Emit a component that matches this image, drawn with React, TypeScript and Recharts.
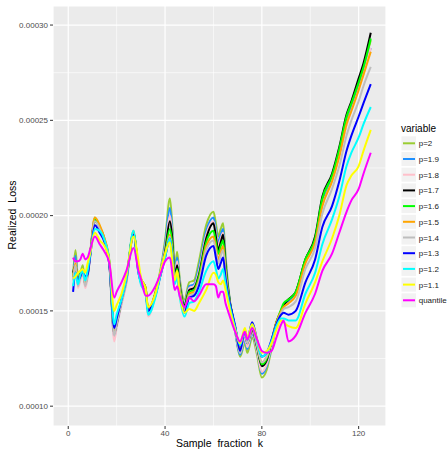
import { CartesianGrid, Label, Line, LineChart, XAxis, YAxis } from "recharts";

// sample fraction k
const K = [
  2, 3, 4, 5, 6, 7, 8, 9, 11, 13, 15, 17, 19, 20, 22, 24, 27, 29, 30, 32, 33, 36, 38, 40,
  42, 43, 44, 45, 46, 48, 50, 52, 54, 57, 60, 61, 62, 63, 64, 65, 66, 69, 71, 73, 74, 76,
  78, 80, 82, 84, 86, 88, 89, 91, 94, 98, 102, 105, 109, 112, 115, 117, 120, 122, 125,
];

// realized loss, in units of 1e-5
const P2 = [
  16.9, 18.2, 16.8, 17.0, 17.4, 16.5, 17.0, 18.0, 19.9, 19.4, 18.8, 17.5, 13.8, 14.4, 15.5, 16.6,
  19.2, 17.2, 16.7, 16.2, 15.0, 16.0, 17.1, 18.7, 20.9, 19.5, 17.2, 18.1, 16.8, 15.6, 16.5, 16.6,
  17.6, 19.5, 20.2, 19.6, 18.9, 19.3, 19.6, 17.9, 16.4, 13.9, 12.6, 13.3, 12.8, 13.6, 12.7, 11.5,
  11.9, 13.0, 14.3, 15.0, 15.3, 15.6, 16.0, 17.7, 18.8, 20.8, 22.1, 23.4, 25.1, 25.8, 26.9, 27.8, 29.2,
];
const P19 = [
  16.7, 17.9, 16.5, 16.8, 17.2, 16.4, 16.9, 17.9, 19.8, 19.4, 18.7, 17.4, 13.6, 14.2, 15.4, 16.5,
  19.1, 17.1, 16.6, 16.0, 14.8, 15.9, 17.0, 18.5, 20.4, 19.2, 17.0, 17.8, 16.6, 15.4, 16.3, 16.4,
  17.3, 19.2, 19.9, 19.3, 18.6, 19.0, 19.3, 17.7, 16.3, 13.9, 12.7, 13.5, 13.0, 13.8, 12.9, 11.7,
  12.1, 13.1, 14.3, 15.0, 15.3, 15.5, 15.9, 17.6, 18.6, 20.6, 21.9, 23.2, 24.8, 25.6, 26.7, 27.5, 28.8,
];
const P18 = [
  16.6, 17.6, 16.2, 16.6, 17.0, 16.2, 16.7, 17.8, 19.8, 19.3, 18.6, 17.4, 13.4, 14.1, 15.3, 16.4,
  19.0, 17.0, 16.5, 15.9, 14.7, 15.8, 16.9, 18.3, 20.0, 19.0, 16.9, 17.6, 16.5, 15.3, 16.2, 16.3,
  17.1, 19.0, 19.7, 19.1, 18.4, 18.8, 19.1, 17.6, 16.2, 14.0, 12.8, 13.6, 13.1, 13.9, 12.9, 11.8,
  12.2, 13.2, 14.3, 15.0, 15.2, 15.4, 15.8, 17.5, 18.6, 20.5, 21.8, 23.1, 24.7, 25.5, 26.6, 27.4, 28.8,
];
const P17 = [
  17.0, 17.4, 16.6, 16.9, 17.2, 16.4, 16.9, 17.9, 19.7, 19.4, 18.7, 17.5, 13.8, 14.3, 15.5, 16.6,
  19.1, 17.2, 16.6, 16.1, 15.0, 15.9, 16.9, 18.1, 19.7, 18.8, 16.8, 17.4, 16.4, 15.3, 16.1, 16.2,
  16.9, 18.8, 19.6, 18.9, 18.2, 18.6, 19.0, 17.5, 16.2, 14.1, 13.0, 13.8, 13.3, 14.0, 13.1, 12.1,
  12.4, 13.4, 14.4, 15.0, 15.3, 15.6, 16.0, 17.7, 18.9, 21.0, 22.2, 23.6, 25.3, 26.0, 27.2, 28.0, 29.6,
];
const P16 = [
  16.8, 17.3, 16.5, 16.9, 17.2, 16.5, 17.0, 17.9, 19.8, 19.4, 18.7, 17.5, 13.9, 14.4, 15.5, 16.6,
  19.1, 17.2, 16.7, 16.2, 15.0, 15.9, 16.9, 18.0, 19.3, 18.5, 16.7, 17.2, 16.3, 15.2, 16.0, 16.1,
  16.8, 18.6, 19.2, 18.6, 18.0, 18.4, 18.7, 17.3, 16.1, 14.1, 13.1, 13.9, 13.4, 14.1, 13.2, 12.2,
  12.5, 13.4, 14.4, 15.1, 15.4, 15.6, 16.0, 17.7, 18.8, 20.9, 22.1, 23.5, 25.2, 25.9, 27.0, 27.8, 29.3,
];
const P15 = [
  16.8, 17.5, 16.6, 16.8, 17.2, 16.4, 16.9, 17.9, 19.9, 19.5, 18.8, 17.6, 14.0, 14.5, 15.6, 16.7,
  19.1, 17.3, 16.7, 16.2, 15.1, 15.9, 16.9, 17.9, 19.0, 18.2, 16.6, 17.1, 16.2, 15.1, 15.9, 16.0,
  16.6, 18.4, 18.9, 18.3, 17.7, 18.1, 18.4, 17.1, 16.0, 14.1, 13.1, 13.9, 13.4, 14.1, 13.3, 12.3,
  12.6, 13.4, 14.4, 15.0, 15.2, 15.4, 15.8, 17.5, 18.6, 20.5, 21.8, 23.1, 24.8, 25.5, 26.6, 27.4, 28.6,
];
const P14 = [
  16.6, 17.4, 16.3, 16.7, 17.0, 16.3, 16.8, 17.8, 19.7, 19.3, 18.6, 17.4, 13.7, 14.3, 15.4, 16.5,
  19.0, 17.1, 16.6, 16.0, 14.9, 15.8, 16.8, 17.8, 18.9, 18.0, 16.5, 17.0, 16.1, 15.0, 15.8, 15.9,
  16.5, 18.2, 18.7, 18.1, 17.5, 17.9, 18.2, 16.9, 15.9, 14.1, 12.8, 13.8, 13.3, 14.1, 13.2, 12.3,
  12.6, 13.4, 14.3, 14.9, 15.1, 15.2, 15.5, 17.2, 18.3, 20.1, 21.4, 22.6, 24.2, 25.0, 26.0, 26.8, 27.8,
];
const P13 = [
  16.0, 17.0, 16.6, 16.8, 17.1, 16.8, 16.9, 17.8, 19.5, 19.1, 18.6, 17.4, 14.1, 14.6, 15.6, 16.7,
  19.0, 17.0, 16.5, 16.0, 15.0, 15.8, 16.8, 17.8, 18.8, 17.9, 16.5, 16.9, 16.0, 14.9, 15.7, 15.8,
  16.3, 17.9, 18.4, 17.8, 17.2, 17.5, 17.8, 16.7, 15.9, 14.2, 12.9, 14.0, 13.5, 14.4, 13.5, 12.6,
  12.8, 13.5, 14.3, 14.8, 14.9, 14.8, 15.0, 16.5, 17.7, 19.4, 20.5, 21.8, 23.4, 24.2, 25.2, 25.9, 26.9,
];
const P12 = [
  16.3, 17.0, 16.4, 16.9, 17.1, 16.6, 17.1, 17.9, 19.3, 19.2, 18.7, 17.6, 14.3, 14.8, 15.6, 16.7,
  19.2, 17.0, 16.4, 15.9, 14.8, 15.7, 16.8, 17.8, 18.8, 17.8, 16.4, 16.8, 15.8, 14.7, 15.4, 15.5,
  16.0, 17.1, 17.6, 17.2, 16.7, 16.9, 17.2, 16.4, 15.7, 14.1, 13.2, 14.0, 13.5, 14.3, 13.4, 12.6,
  12.8, 13.4, 14.2, 14.6, 14.6, 14.5, 14.5, 15.9, 17.0, 18.5, 19.8, 21.0, 22.6, 23.3, 24.1, 24.8, 25.7,
];
const P11 = [
  16.7, 16.8, 17.0, 17.1, 17.2, 17.0, 17.5, 18.0, 19.1, 18.7, 18.4, 17.6, 15.0, 15.3, 15.9, 16.9,
  18.9, 17.6, 16.8, 16.1, 15.2, 15.9, 17.0, 18.0, 18.6, 17.6, 16.6, 17.1, 16.0, 14.9, 15.1, 15.0,
  15.4, 16.1, 17.0, 16.9, 16.5, 16.4, 16.6, 16.1, 15.5, 14.0, 13.3, 14.1, 13.6, 14.3, 13.5, 12.8,
  12.9, 13.3, 14.0, 14.5, 14.4, 14.2, 14.1, 15.4, 16.5, 17.6, 18.8, 20.0, 21.6, 22.1, 22.6, 23.4, 24.5,
];
const QUANTILE = [
  17.8, 17.6, 17.6, 17.7, 18.0, 17.7, 17.8, 18.2, 18.9, 18.5, 18.1, 17.5, 15.7, 16.0, 16.5, 17.1,
  18.3, 17.1, 16.7, 15.8, 15.8, 16.3, 16.9, 17.6, 17.8, 17.0, 16.1, 16.3, 15.8, 15.2, 15.7, 15.5,
  15.8, 16.4, 16.4, 16.3, 15.7, 16.0, 16.0, 15.4, 15.0, 13.9, 13.4, 13.9, 13.5, 14.1, 13.5, 12.9,
  12.8, 12.9, 13.6, 14.3, 14.5, 13.4, 13.7, 14.9, 15.9, 17.1, 18.0, 19.1, 20.2, 20.8, 21.4, 22.2, 23.3,
];

const SERIES_NAMES = ["p=2", "p=1.9", "p=1.8", "p=1.7", "p=1.6", "p=1.5", "p=1.4", "p=1.3", "p=1.2", "p=1.1", "quantile"];
const SERIES_VALUES = [P2, P19, P18, P17, P16, P15, P14, P13, P12, P11, QUANTILE];

const X_DOMAIN = [-6.3, 131.3];
const Y_DOMAIN = [8.96, 31.0];
const X_TICKS = [0, 40, 80, 120];
const X_MINOR = [20, 60, 100];
const Y_TICKS = [10, 15, 20, 25, 30];
const Y_MINOR = [12.5, 17.5, 22.5, 27.5];

const COLORS: Record<string, string> = {
  "p=2": "#9ACD32",
  "p=1.9": "#1E90FF",
  "p=1.8": "#FFC0CB",
  "p=1.7": "#000000",
  "p=1.6": "#00FF00",
  "p=1.5": "#FFA500",
  "p=1.4": "#BEBEBE",
  "p=1.3": "#0000FF",
  "p=1.2": "#00FFFF",
  "p=1.1": "#FFFF00",
  quantile: "#FF00FF",
};

const FONT = "'Liberation Sans', Arial, Helvetica, sans-serif";

const data = K.map((k, i) => {
  const row: Record<string, number> = { k };
  SERIES_NAMES.forEach((name, s) => {
    row[name] = SERIES_VALUES[s][i];
  });
  return row;
});

// map a value through the axis scale (recharts 3 may hand us a wrapped scale)
function toPixel(scale: any, v: number, start: number, size: number, domain: number[], flip: boolean) {
  if (typeof scale === "function") return scale(v);
  if (scale && typeof scale.map === "function") {
    const p = scale.map(v);
    if (typeof p === "number") return p;
  }
  const t = (v - domain[0]) / (domain[1] - domain[0]);
  return flip ? start + size * (1 - t) : start + size * t;
}

const minorX = (props: any) => {
  const off = props?.offset ?? {};
  return X_MINOR.map((v) => toPixel(props?.xAxis?.scale, v, off.left, off.width, X_DOMAIN, false));
};
const minorY = (props: any) => {
  const off = props?.offset ?? {};
  return Y_MINOR.map((v) => toPixel(props?.yAxis?.scale, v, off.top, off.height, Y_DOMAIN, true));
};

function VariableLegend() {
  return (
    <svg width={60} height={200} style={{ position: "absolute", left: 395, top: 115, fontFamily: FONT }}>
      <text x={6} y={16.5} fontSize={10} fill="#000">
        variable
      </text>
      {SERIES_NAMES.map((name, i) => {
        const cy = 28.3 + i * 15.7;
        return (
          <g key={name}>
            <rect x={6.5} y={cy - 7} width={14.5} height={14} fill="#F2F2F2" />
            <line x1={8} x2={20} y1={cy} y2={cy} stroke={COLORS[name]} strokeWidth={2} />
            <text x={23.7} y={cy + 3} fontSize={8} fill="#1A1A1A">
              {name}
            </text>
          </g>
        );
      })}
    </svg>
  );
}

export default function App() {
  return (
    <div style={{ position: "absolute", left: 0, top: 0, width: 448, height: 449, background: "#fff" }}>
      <LineChart width={448} height={449} data={data} margin={{ top: 6, right: 62, bottom: 0, left: 0 }}>
        <CartesianGrid fill="#EBEBEB" stroke="#FFFFFF" strokeWidth={1.2} />
        <CartesianGrid
          fill="none"
          stroke="#FFFFFF"
          strokeWidth={0.6}
          horizontalCoordinatesGenerator={minorY}
          verticalCoordinatesGenerator={minorX}
        />
        <XAxis
          dataKey="k"
          type="number"
          domain={X_DOMAIN}
          allowDataOverflow
          ticks={X_TICKS}
          interval={0}
          height={23}
          axisLine={false}
          tickLine={{ stroke: "#333333" }}
          tickSize={3}
          tickMargin={1}
          tick={{ fill: "#4D4D4D", fontSize: 8, fontFamily: FONT }}
        >
          <Label
            content={() => (
              <text x={219.5} y={447} textAnchor="middle" fontSize={10.5} wordSpacing={3} fill="#000" fontFamily={FONT}>
                Sample fraction k
              </text>
            )}
          />
        </XAxis>
        <YAxis
          type="number"
          domain={Y_DOMAIN}
          allowDataOverflow
          ticks={Y_TICKS}
          interval={0}
          width={53}
          axisLine={false}
          tickLine={{ stroke: "#333333" }}
          tickSize={3}
          tickMargin={2}
          tick={{ fill: "#4D4D4D", fontSize: 8, fontFamily: FONT }}
          tickFormatter={(v: number) => (v * 1e-5).toFixed(5)}
        >
          <Label
            content={() => (
              <text
                x={15.5}
                y={215}
                transform="rotate(-90 15.5 215)"
                textAnchor="middle"
                fontSize={10.5}
                wordSpacing={3}
                fill="#000"
                fontFamily={FONT}
              >
                Realized Loss
              </text>
            )}
          />
        </YAxis>
        {SERIES_NAMES.map((name) => (
          <Line
            key={name}
            type="monotone"
            dataKey={name}
            stroke={COLORS[name]}
            strokeWidth={2}
            dot={false}
            activeDot={false}
            isAnimationActive={false}
          />
        ))}
      </LineChart>
      <VariableLegend />
    </div>
  );
}
